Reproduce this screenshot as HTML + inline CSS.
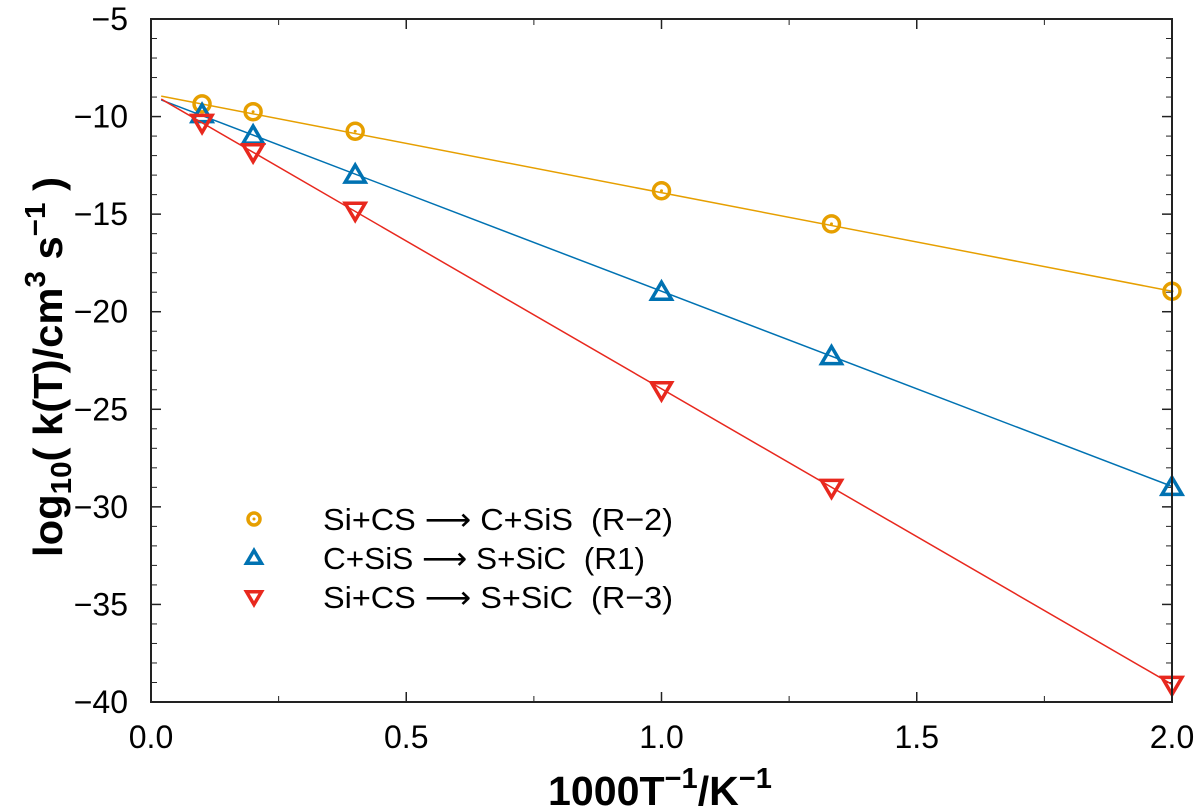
<!DOCTYPE html>
<html><head><meta charset="utf-8"><style>
html,body{margin:0;padding:0;background:#fff;}
svg{display:block;font-family:"Liberation Sans",sans-serif;}
</style></head><body>
<svg id="chart" width="1200" height="812" viewBox="0 0 1200 812">
<g id="grid"></g>
<g id="series"></g>
<g id="legend"></g>
<rect x="151" y="19" width="1021" height="683" fill="none" stroke="#222" stroke-width="2"/>
<text x="660" y="805" text-anchor="middle" font-weight="bold" font-size="41" textLength="224" lengthAdjust="spacingAndGlyphs">1000T<tspan dy="-17" font-size="29">−1</tspan><tspan dy="17">/K</tspan><tspan dy="-17" font-size="29">−1</tspan></text>
<text transform="translate(62,367) rotate(-90)" text-anchor="middle" font-weight="bold" font-size="41" textLength="380" lengthAdjust="spacingAndGlyphs">log<tspan dy="9" font-size="29">10</tspan><tspan dy="-9">( k(T)/cm</tspan><tspan dy="-17" font-size="29">3</tspan><tspan dy="17"> s</tspan><tspan dy="-17" font-size="29">−1</tspan><tspan dy="17"> )</tspan></text>
</svg>
<script>
const xs = [0.1, 0.2, 0.4, 1.0, 1.333, 2.0];
const seriesNames = ["Si+CS \u27F6 C+SiS  (R\u22122)", "C+SiS \u27F6 S+SiC  (R1)", "Si+CS \u27F6 S+SiC  (R\u22123)"];
const valsR2 = [-9.35, -9.75, -10.75, -13.8, -15.5, -18.95];
const valsR1 = [-9.9, -11.0, -13.0, -19.0, -22.3, -29.0];
const valsR3 = [-10.3, -11.8, -14.8, -24.0, -29.0, -39.1];
const fitIntercepts = [-8.85, -8.95, -8.8];
const fitSlopes = [-5.05, -10.0, -15.15];
const xTicks = [0.0, 0.5, 1.0, 1.5, 2.0];
const xTickLabels = ["0.0", "0.5", "1.0", "1.5", "2.0"];
const yTicks = [-5, -10, -15, -20, -25, -30, -35, -40];
const yTickLabels = ["\u22125", "\u221210", "\u221215", "\u221220", "\u221225", "\u221230", "\u221235", "\u221240"];

const NS = "http://www.w3.org/2000/svg";
const X0 = 151, X1 = 1172, Y0 = 19, Y1 = 702;
function sx(v){ return X0 + (v - 0) / 2 * (X1 - X0); }
function sy(v){ return Y0 + (-5 - v) / 35 * (Y1 - Y0); }
function mk(tag, attrs, parent){ const e = document.createElementNS(NS, tag); for (const k in attrs) e.setAttribute(k, attrs[k]); parent.appendChild(e); return e; }

const grid = document.getElementById('grid');
for (let i = 0; i < xTicks.length; i++) {
  const x = sx(xTicks[i]);
  const t = mk('line', {x1:x, x2:x, y1:Y1, y2:Y1-10, stroke:'#222', 'stroke-width':1.5}, grid);
  
  
  const t2 = mk('line', {x1:x, x2:x, y1:Y0, y2:Y0+10, stroke:'#222', 'stroke-width':1.5}, grid);
  
  
  const l = mk('text', {x:x, y:748, 'text-anchor':'middle', 'font-size':32}, grid);
  l.textContent = xTickLabels[i];
  
  
}
for (let v = 0.25; v < 2; v += 0.5) {
  const x = sx(v);
  const m = mk('line', {x1:x, x2:x, y1:Y1, y2:Y1-6, stroke:'#222', 'stroke-width':1}, grid);
  
  
  const m2 = mk('line', {x1:x, x2:x, y1:Y0, y2:Y0+6, stroke:'#222', 'stroke-width':1}, grid);
  
  
}
for (let i = 0; i < yTicks.length; i++) {
  const y = sy(yTicks[i]);
  const t = mk('line', {x1:X0, x2:X0+10, y1:y, y2:y, stroke:'#222', 'stroke-width':1.5}, grid);
  
  
  const t2 = mk('line', {x1:X1, x2:X1-10, y1:y, y2:y, stroke:'#222', 'stroke-width':1.5}, grid);
  
  
  const l = mk('text', {x:128, y:y+11, 'text-anchor':'end', 'font-size':32}, grid);
  l.textContent = yTickLabels[i];
  
  
}
for (let v = -6; v > -40; v--) {
  if (v % 5 === 0) continue;
  const y = sy(v);
  const m = mk('line', {x1:X0, x2:X0+6, y1:y, y2:y, stroke:'#222', 'stroke-width':1}, grid);
  
  
  const m2 = mk('line', {x1:X1, x2:X1-6, y1:y, y2:y, stroke:'#222', 'stroke-width':1}, grid);
  
  
}

const colors = ['#e69f00', '#0072b2', '#e8281e'];
const allVals = [valsR2, valsR1, valsR3];
const shapes = ['circle', 'up', 'down'];
const ids = ['r-2', 'r1', 'r-3'];
const series = document.getElementById('series');

function marker(parent, shape, cx, cy, color, sc){
  let e;
  const k = sc || 1;
  if (shape === 'circle') {
    e = mk('circle', {cx:cx, cy:cy, r:8*k, fill:'none', stroke:color, 'stroke-width':3.5}, parent);
    mk('circle', {cx:cx, cy:cy, r:1.5, fill:color}, parent);
  } else if (shape === 'up') {
    e = mk('polygon', {points:`${cx},${cy-10*k} ${cx+10*k},${cy+7*k} ${cx-10*k},${cy+7*k}`, fill:'none', stroke:color, 'stroke-width':3.5}, parent);
  } else {
    e = mk('polygon', {points:`${cx},${cy+10*k} ${cx+10*k},${cy-7*k} ${cx-10*k},${cy-7*k}`, fill:'none', stroke:color, 'stroke-width':3.5}, parent);
  }
  return e;
}

for (let s = 0; s < 3; s++) {
  const g = mk('g', {}, series);
  
  
  const xa = 0.02, xb = 2.0;
  const ln = mk('line', {x1:sx(xa), y1:sy(fitIntercepts[s] + fitSlopes[s]*xa), x2:sx(xb), y2:sy(fitIntercepts[s] + fitSlopes[s]*xb), stroke:colors[s], 'stroke-width':1.5}, g);
  
  
  for (let i = 0; i < xs.length; i++) {
    const m = marker(g, shapes[s], sx(xs[i]), sy(allVals[s][i]), colors[s], 1);
    
    
  }
}

const legend = document.getElementById('legend');
const legendY = [519, 558, 597];
for (let s = 0; s < 3; s++) {
  const g = mk('g', {}, legend);
  
  
  marker(g, shapes[s], 254, legendY[s], colors[s], 0.75);
  const t = mk('text', {x:323, y:legendY[s]+11, 'font-size':31, 'font-family':'"Liberation Sans","DejaVu Sans",sans-serif', style:'white-space:pre', textLength: s===1 ? 322 : 350, lengthAdjust:'spacingAndGlyphs'}, g);
  t.textContent = seriesNames[s];
  
  
}
</script>
</body></html>
